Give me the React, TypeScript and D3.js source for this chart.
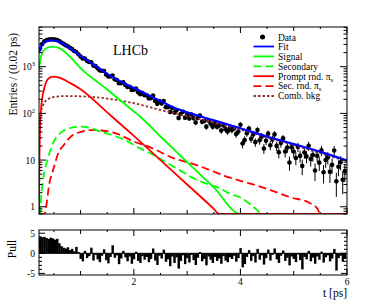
import React from 'react';
import * as d3 from 'd3';

const W = 369;
const H = 305;
const left = 39;
const right = 347;
const mainTop = 27;
const mainBottom = 214;
const pullTop = 230;
const pullBottom = 275;

const tMin = 0.22;
const tMax = 6;
const binWidth = 0.04;
const yFloor = 0.7;

// curves: [t (ps), entries / 0.02 ps]
const fitCurve: [number, number][] = [
  [0.22, 2000], [0.3, 3200], [0.4, 3600], [0.48, 3650], [0.6, 3400], [0.8, 2500],
  [1.0, 1700], [1.25, 1100], [1.5, 700], [1.75, 480], [2.0, 350], [2.26, 250],
  [2.5, 185], [2.74, 135], [3.0, 105], [3.5, 71], [4.0, 48], [4.5, 32],
  [5.0, 22], [5.5, 15], [6.0, 9.8],
];
const signalCurve: [number, number][] = [
  [0.22, 900], [0.26, 1700], [0.32, 2300], [0.4, 2600], [0.48, 2700], [0.6, 2500],
  [0.8, 1650], [1.0, 930], [1.5, 325], [2.0, 110], [2.11, 87], [2.5, 32],
  [3.0, 9], [3.5, 2.6], [4.0, 0.7], [4.5, 0.5], [6.0, 0.5],
];
const secondaryCurve: [number, number][] = [
  [0.22, 0.5], [0.24, 0.7], [0.26, 1.6], [0.3, 4], [0.39, 11], [0.5, 25], [0.57, 33],
  [0.7, 44], [0.85, 50], [1.0, 52], [1.2, 48], [1.36, 41], [1.6, 34], [1.8, 28],
  [2.11, 18], [2.36, 13], [2.6, 9], [2.86, 6.1], [3.1, 4.2], [3.4, 3], [3.61, 2.5],
  [3.8, 1.9], [3.99, 1.6], [4.2, 1.1], [4.44, 0.7], [4.6, 0.5], [6.0, 0.5],
];
const promptCurve: [number, number][] = [
  [0.22, 0.5], [0.225, 5], [0.235, 30], [0.26, 130], [0.32, 350], [0.4, 560],
  [0.48, 615], [0.6, 580], [0.8, 450], [1.0, 330], [1.5, 105], [2.0, 33],
  [2.5, 10], [3.0, 3.0], [3.5, 0.9], [3.6, 0.7], [3.8, 0.5], [6.0, 0.5],
];
const secRndCurve: [number, number][] = [
  [0.22, 0.3], [0.32, 0.7], [0.42, 3.4], [0.5, 7], [0.57, 13], [0.7, 22], [0.82, 32],
  [1.0, 40], [1.2, 44], [1.4, 43], [1.7, 36], [2.0, 25], [2.3, 19], [2.74, 11],
  [3.0, 9], [3.37, 6.5], [3.7, 4.6], [4.0, 3.6], [4.37, 2.7], [4.6, 2.2],
  [4.93, 1.6], [5.3, 1.2], [5.45, 0.9], [5.5, 0.7], [5.6, 0.5], [6.0, 0.5],
];
const combCurve: [number, number][] = [
  [0.22, 60], [0.26, 110], [0.32, 170], [0.4, 205], [0.5, 225], [0.7, 235],
  [1.0, 232], [1.3, 220], [1.6, 200], [2.0, 165], [2.26, 140], [2.5, 118],
  [3.0, 88], [3.5, 64], [4.0, 45], [4.5, 30.5], [5.0, 21], [5.5, 14], [6.0, 9.5],
];

// data points, one per 0.04 ps starting at t = 0.22
const dataCounts = [
  2440, 3060, 3500, 3690, 3820, 3865, 3870, 3795, 3720, 3535,
  3290, 3087, 2894, 2748, 2550, 2373, 2173, 2062, 1853, 1643,
  1505, 1500, 1333, 1258, 1246, 1056, 1027, 921, 834, 821,
  808, 680, 615, 615, 650, 540, 520, 441, 445, 463,
  407, 367, 371, 318, 322, 340, 282, 258, 273, 245,
  244, 210, 212, 240, 185, 160, 183, 163, 184, 136,
  135, 107, 130, 104, 116, 80, 97, 108, 81, 93,
  78, 94, 79, 64, 80, 90, 66, 69, 52, 70,
  60, 52, 62, 52, 55, 43, 56, 46, 41, 48.5,
  43.8, 48.3, 36, 41, 57, 22.6, 27, 37.7, 47.5, 28.7,
  35.3, 24.2, 43.9, 26.5, 32, 17.7, 26, 36.8, 20.8, 27.7,
  35.5, 20.1, 14.7, 23.3, 29.1, 15.3, 18.6, 8.9, 18.8, 15.3,
  11.1, 19.1, 12.3, 7.5, 14.5, 12, 20.2, 10.5, 12.8, 6,
  12.4, 8.8, 16.1, 5.5, 10, 11.4, 5.6, 7.9, 16, 3.5, 7.2, 9, 3.8, 5.8,
];

const pulls = [
  4.2, 4.0, 4.1, 3.8, 3.6, 3.9, 3.7, 3.4, 3.6, 2.5,
  1.8, 1.4, 1.2, 1.5, 0.8, 1.1, 0.5, 1.6, 0.3, -1.4,
  -2.0, 0.6, -1.2, -0.7, 1.4, -1.8, -0.4, -1.5, -2.2, -0.6,
  1.0, -1.7, -2.5, -0.9, 2.0, -1.1, -0.5, -2.7, -1.3, 0.6,
  -1.0, -2.0, -0.8, -2.6, -1.5, 0.4, -1.9, -2.4, -0.7, -1.6,
  -0.9, -2.2, -1.4, 1.2, -1.8, -2.9, -0.6, -1.3, 0.9, -2.1,
  -1.5, -3.2, -0.8, -2.4, -1.0, -3.8, -1.9, -0.5, -2.7, -1.2,
  -2.3, -0.4, -1.7, -2.9, -1.1, 0.3, -2.0, -1.4, -3.0, -0.8,
  -1.6, -2.4, -0.9, -1.9, -1.3, -2.6, -0.7, -1.8, -2.2, -1.0,
  -1.4, -0.6, -2.1, -1.2, 1.3, -3.5, -2.7, -0.9, 0.8, -1.9,
  -0.7, -2.3, 1.1, -1.6, -0.5, -2.8, -1.2, 0.9, -1.8, -0.4,
  1.2, -1.5, -2.4, -0.6, 0.7, -1.9, -1.1, -3.0, -0.8, -1.4,
  -2.2, -0.3, -1.7, -4.0, -0.9, -1.5, 0.6, -2.0, -1.1, -2.6,
  -0.8, -1.6, 0.4, -2.3, -1.0, -0.5, -2.0, -1.3, 1.1, -4.3, -1.2, -0.6, -2.1, -1.4,
];

const xTickLabels = [2, 4, 6];
const yTickLabels = [
  { v: 1, base: '1', sup: '' },
  { v: 10, base: '10', sup: '' },
  { v: 100, base: '10', sup: '2' },
  { v: 1000, base: '10', sup: '3' },
];
const pullTickLabels = [5, 0, -5];

const font = '"Liberation Serif", "Times New Roman", serif';

const x = d3.scaleLinear().domain([tMin, tMax]).range([left, right]);
const y = d3.scaleLog().domain([yFloor, 7080]).range([mainBottom, mainTop]);
const yPull = d3.scaleLinear().domain([-5.4, 5.8]).range([pullBottom, pullTop]);

const curveLine = d3
  .line<[number, number]>()
  .x((d) => x(d[0]))
  .y((d) => y(Math.max(d[1], yFloor)))
  .curve(d3.curveMonotoneX);

const curves = [
  { key: 'comb', pts: combCurve, color: '#993333', width: 1.8, dash: '2.5,2' },
  { key: 'secrnd', pts: secRndCurve, color: '#ff0000', width: 1.8, dash: '8,4' },
  { key: 'secondary', pts: secondaryCurve, color: '#00ff00', width: 1.8, dash: '8,4' },
  { key: 'signal', pts: signalCurve, color: '#00ff00', width: 1.8, dash: '' },
  { key: 'prompt', pts: promptCurve, color: '#ff0000', width: 1.8, dash: '' },
  { key: 'fit', pts: fitCurve, color: '#0000ff', width: 2.2, dash: '' },
];

const legend = [
  { label: 'Fit', color: '#0000ff', dash: '' },
  { label: 'Signal', color: '#00ff00', dash: '' },
  { label: 'Secondary', color: '#00ff00', dash: '8,4' },
  { label: 'Prompt rnd. π', sub: 's', color: '#ff0000', dash: '' },
  { label: 'Sec. rnd. π', sub: 's', color: '#ff0000', dash: '8,4' },
  { label: 'Comb. bkg', color: '#993333', dash: '2.5,2' },
];

const xTicks = (top: number, bottom: number) => {
  const out: JSX.Element[] = [];
  d3.range(0.5, 6.001, 0.5).forEach((t, i) => {
    if (t < tMin) return;
    const isMajor = Math.abs(t % 2) < 1e-6;
    const isMid = !isMajor && Math.abs(t % 1) < 1e-6;
    const len = isMajor ? 6 : isMid ? 4 : 2;
    const px = x(t);
    out.push(<line key={`b${i}`} x1={px} x2={px} y1={bottom} y2={bottom - len} stroke="#000" />);
    out.push(<line key={`t${i}`} x1={px} x2={px} y1={top} y2={top + len} stroke="#000" />);
  });
  return out;
};

const logTicks: { v: number; major: boolean }[] = [];
for (let e = -1; e <= 3; e++) {
  for (let k = 1; k <= 9; k++) {
    const v = k * Math.pow(10, e);
    if (v >= yFloor && v <= 7080) logTicks.push({ v, major: k === 1 });
  }
}

const App = () => {
  const clipMain = 'clip-main';
  return (
    <svg
      width={W}
      height={H}
      style={{ position: 'absolute', left: 0, top: 0, background: '#fff' }}
      fontFamily={font}
    >
      <defs>
        <clipPath id={clipMain}>
          <rect x={left} y={mainTop} width={right - left} height={mainBottom - mainTop} />
        </clipPath>
      </defs>

      {/* main panel */}
      <g clipPath={`url(#${clipMain})`}>
        {dataCounts.map((v, i) => {
          const t = tMin + binWidth * (i + 0.5);
          const err = Math.sqrt(v);
          return (
            <g key={i}>
              <line
                x1={x(t)}
                x2={x(t)}
                y1={y(Math.max(v - err, yFloor))}
                y2={y(v + err)}
                stroke="#000"
                strokeWidth={1}
              />
              <circle cx={x(t)} cy={y(v)} r={2.3} fill="#000" />
            </g>
          );
        })}
        {curves.map((c) => (
          <path
            key={c.key}
            d={curveLine(c.pts) || ''}
            fill="none"
            stroke={c.color}
            strokeWidth={c.width}
            strokeDasharray={c.dash || undefined}
          />
        ))}
      </g>
      <rect x={left} y={mainTop} width={right - left} height={mainBottom - mainTop} fill="none" stroke="#000" />
      {xTicks(mainTop, mainBottom)}
      {logTicks.map((tk, i) => {
        const len = tk.major ? 7 : 3.5;
        const py = y(tk.v);
        return (
          <g key={i}>
            <line x1={left} x2={left + len} y1={py} y2={py} stroke="#000" />
            <line x1={right} x2={right - len} y1={py} y2={py} stroke="#000" />
          </g>
        );
      })}
      {yTickLabels.map((l) => (
        <text key={l.v} x={35} y={y(l.v) + 3.5} fontSize={9.5} textAnchor="end">
          {l.base}
          {l.sup && (
            <tspan fontSize={6.5} dy={-4}>
              {l.sup}
            </tspan>
          )}
        </text>
      ))}
      <text transform={`translate(16.5,33) rotate(-90)`} fontSize={11.5} textAnchor="end">
        Entries / (0.02 ps)
      </text>
      <text x={113} y={55} fontSize={14}>
        LHCb
      </text>

      {/* legend */}
      <circle cx={262.5} cy={37} r={2.5} fill="#000" />
      <text x={278} y={40.5} fontSize={9.5}>
        Data
      </text>
      {legend.map((l, i) => {
        const ly = 46.5 + i * 9.9;
        return (
          <g key={l.label}>
            <line x1={253.5} x2={274} y1={ly} y2={ly} stroke={l.color} strokeWidth={1.8} strokeDasharray={l.dash || undefined} />
            <text x={278} y={ly + 3.3} fontSize={9.5}>
              {l.label}
              {l.sub && (
                <tspan fontSize={6.5} dy={2}>
                  {l.sub}
                </tspan>
              )}
            </text>
          </g>
        );
      })}

      {/* pull panel */}
      {pulls.map((p, i) => {
        const x0 = x(tMin + binWidth * i);
        const x1 = x(Math.min(tMin + binWidth * (i + 1), tMax));
        const y0 = yPull(0);
        const y1 = yPull(p);
        return <rect key={i} x={x0} y={Math.min(y0, y1)} width={x1 - x0 + 0.3} height={Math.abs(y1 - y0)} fill="#000" />;
      })}
      <line x1={left} x2={right} y1={yPull(0)} y2={yPull(0)} stroke="#000" />
      <rect x={left} y={pullTop} width={right - left} height={pullBottom - pullTop} fill="none" stroke="#000" />
      {xTicks(pullTop, pullBottom)}
      {d3.range(-5, 6, 1).map((v) => {
        const len = v % 5 === 0 ? 6 : 3;
        const py = yPull(v);
        return (
          <g key={v}>
            <line x1={left} x2={left + len} y1={py} y2={py} stroke="#000" />
            <line x1={right} x2={right - len} y1={py} y2={py} stroke="#000" />
          </g>
        );
      })}
      {pullTickLabels.map((v) => (
        <text key={v} x={35} y={yPull(v) + 3.5} fontSize={9.5} textAnchor="end">
          {v}
        </text>
      ))}
      {xTickLabels.map((v) => (
        <text key={v} x={x(v)} y={285} fontSize={9.5} textAnchor="middle">
          {v}
        </text>
      ))}
      <text transform={`translate(16,249) rotate(-90)`} fontSize={11.5} textAnchor="middle">
        Pull
      </text>
      <text x={347} y={297} fontSize={11.5} textAnchor="end">
        t [ps]
      </text>
    </svg>
  );
};

export default App;
